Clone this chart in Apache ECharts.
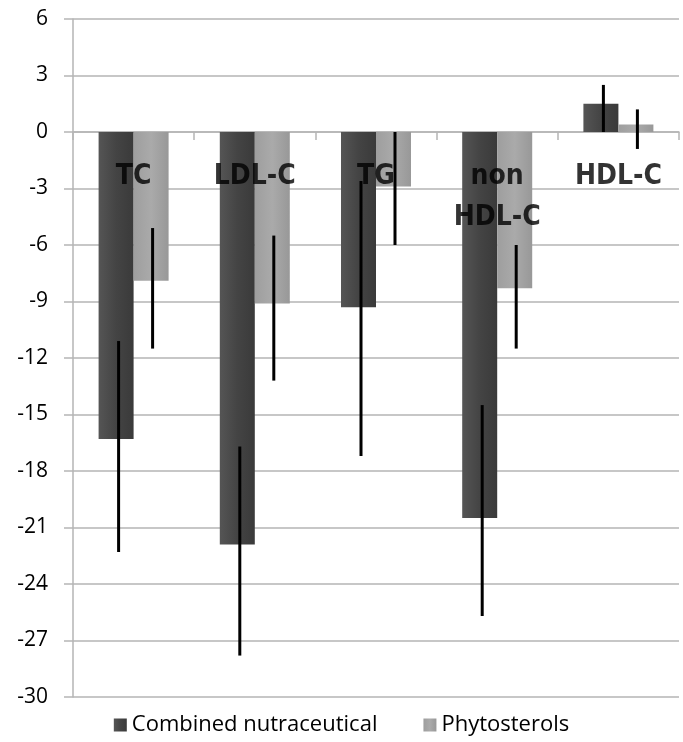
<!DOCTYPE html>
<html>
	<head>
		<meta charset="utf-8" />
		<title>Lipid changes</title>
		<style type="text/css">
			html, body {margin:0;padding:0;background:#fff;}
			#chart {width:683px;height:742px;}
		</style>
	</head>
	<body>
		<div id="chart"></div>
		<script src="https://cdn.jsdelivr.net/npm/echarts@6/dist/echarts.min.js"></script>
		<script type="text/javascript">
			// categories and tick range
			const categories = ['TC', 'LDL-C', 'TG', 'non\nHDL-C', 'HDL-C'];
			const yMin = -30, yMax = 6, yStep = 3;

			// mean change (%)
			const combined = [-16.3, -21.9, -9.3, -20.5, 1.5];
			const phyto = [-7.9, -9.1, -2.9, -8.3, 0.4];

			// error bar ends
			const combinedLow = [-22.3, -27.8, -17.2, -25.7, 0.0];
			const combinedHigh = [-11.1, -16.7, -2.6, -14.5, 2.5];
			const phytoLow = [-11.5, -13.2, -6.0, -11.5, -0.9];
			const phytoHigh = [-5.1, -5.5, 0.0, -6.0, 1.2];

			const names = ['Combined nutraceutical', 'Phytosterols'];

			const chart = echarts.init(document.getElementById('chart'));

			const darkFill = new echarts.graphic.LinearGradient(0, 0, 1, 0, [
				{offset: 0, color: '#555555'},
				{offset: 0.5, color: '#444444'},
				{offset: 1, color: '#3a3a3a'}
			]);
			const lightFill = new echarts.graphic.LinearGradient(0, 0, 1, 0, [
				{offset: 0, color: '#9e9e9e'},
				{offset: 0.5, color: '#aaaaaa'},
				{offset: 1, color: '#989898'}
			]);

			// vertical error line drawn through the axis scales
			function errorSeries(low, high, shift) {
				return {
					type: 'custom',
					z: 5,
					silent: true,
					encode: {x: 0, y: [1, 2]},
					data: low.map((v, i) => [i, v, high[i]]),
					renderItem: (params, api) => {
						const a = api.coord([api.value(0), api.value(1)]);
						const b = api.coord([api.value(0), api.value(2)]);
						return {
							type: 'line',
							shape: {x1: a[0] + shift, y1: a[1], x2: b[0] + shift, y2: b[1]},
							style: {stroke: '#000', lineWidth: 3}
						};
					}
				};
			}

			const option = {
				animation: false,
				grid: {left: 73, right: 4, top: 19, bottom: 45, outerBoundsMode: 'none', containLabel: false},
				legend: {
					bottom: 1,
					left: 'center',
					icon: 'rect',
					itemWidth: 13,
					itemHeight: 13,
					itemGap: 46,
					textStyle: {fontFamily: 'Open Sans', fontSize: 22, color: '#000'},
					data: names
				},
				xAxis: {
					type: 'category',
					data: categories,
					axisLine: {onZero: true, lineStyle: {color: '#b5b5b5', width: 1.5}},
					axisTick: {show: true, length: 8, lineStyle: {color: '#b5b5b5', width: 1.5}},
					axisLabel: {show: false}
				},
				yAxis: {
					type: 'value',
					min: yMin,
					max: yMax,
					interval: yStep,
					axisLine: {show: true, lineStyle: {color: '#b5b5b5', width: 1.5}},
					axisTick: {show: true, length: 9, lineStyle: {color: '#b5b5b5', width: 1.5}},
					axisLabel: {margin: 25, fontFamily: 'Open Sans', fontSize: 21, color: '#000'},
					splitLine: {lineStyle: {color: '#b5b5b5', width: 1.5}}
				},
				series: [{
					name: names[0],
					type: 'bar',
					barWidth: 35,
					barGap: 0,
					itemStyle: {color: darkFill},
					data: combined
				}, {
					name: names[1],
					type: 'bar',
					barWidth: 35,
					barGap: 0,
					itemStyle: {color: lightFill},
					data: phyto
				},
				errorSeries(combinedLow, combinedHigh, -15),
				errorSeries(phytoLow, phytoHigh, 19),
				{
					// category names sit just under the zero line
					type: 'scatter',
					symbolSize: 0,
					silent: true,
					z: 6,
					data: categories.map((c, i) => [i, 0]),
					label: {
						show: true,
						position: 'bottom',
						distance: 24,
						formatter: p => categories[p.dataIndex],
						fontFamily: 'DejaVu Sans Condensed',
						fontWeight: 'bold',
						fontSize: 28,
						lineHeight: 41,
						color: '#000'
					}
				}]
			};
			chart.setOption(option);
		</script>
	</body>
</html>
